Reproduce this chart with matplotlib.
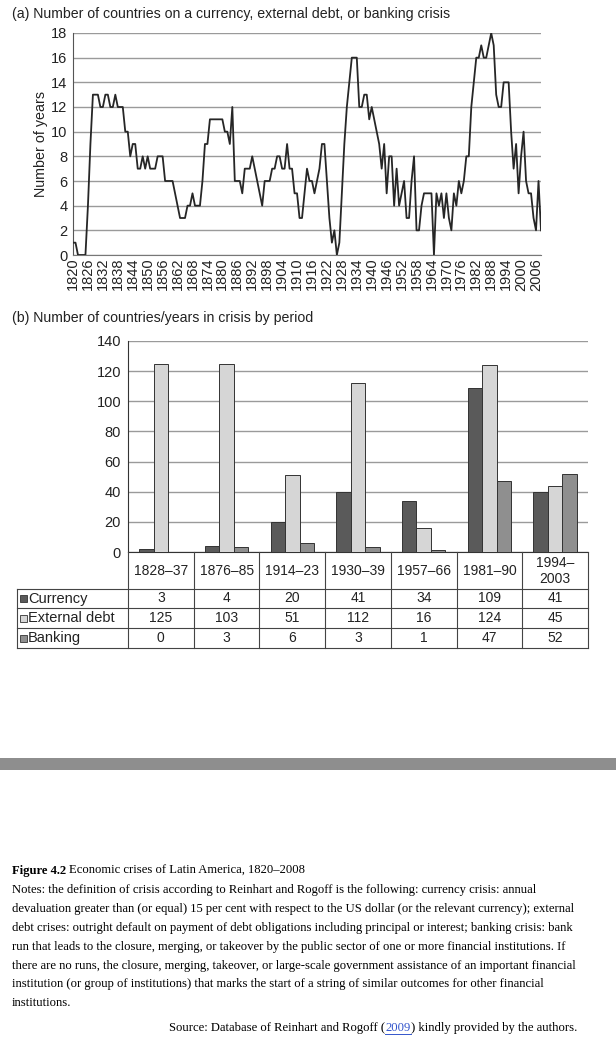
import numpy as np
import matplotlib
matplotlib.use('Agg')
import matplotlib.pyplot as plt
from matplotlib.patches import Rectangle

plt.rcParams['font.family'] = ['Liberation Sans', 'DejaVu Sans']

# ---- panel (a): number of countries in crisis, per year ----
years = np.arange(1820, 2009)
n_crisis = [
    1, 1, 0, 0, 0, 0, 4, 9, 13, 13,          # 1820s
    13, 12, 12, 13, 13, 12, 12, 13, 12, 12,  # 1830s
    12, 10, 10, 8, 9, 9, 7, 7, 8, 7,         # 1840s
    8, 7, 7, 7, 8, 8, 8, 6, 6, 6,            # 1850s
    6, 5, 4, 3, 3, 3, 4, 4, 5, 4,            # 1860s
    4, 4, 6, 9, 9, 11, 11, 11, 11, 11,       # 1870s
    11, 10, 10, 9, 12, 6, 6, 6, 5, 7,        # 1880s
    7, 7, 8, 7, 6, 5, 4, 6, 6, 6,            # 1890s
    7, 7, 8, 8, 7, 7, 9, 7, 7, 5,            # 1900s
    5, 3, 3, 5, 7, 6, 6, 5, 6, 7,            # 1910s
    9, 9, 6, 3, 1, 2, 0, 1, 5, 9,            # 1920s
    12, 14, 16, 16, 16, 12, 12, 13, 13, 11,  # 1930s
    12, 11, 10, 9, 7, 9, 5, 8, 8, 4,         # 1940s
    7, 4, 5, 6, 3, 3, 6, 8, 2, 2,            # 1950s
    4, 5, 5, 5, 5, 0, 5, 4, 5, 3,            # 1960s
    5, 3, 2, 5, 4, 6, 5, 6, 8, 8,            # 1970s
    12, 14, 16, 16, 17, 16, 16, 17, 18, 17,  # 1980s
    13, 12, 12, 14, 14, 14, 10, 7, 9, 5,     # 1990s
    8, 10, 6, 5, 5, 3, 2, 6, 2,              # 2000-2008
]

# ---- panel (b): countries/years in crisis by period ----
periods = ['1828–37', '1876–85', '1914–23', '1930–39', '1957–66', '1981–90', '1994–\n2003']
# bar heights as drawn
currency_bars = [2, 4, 20, 40, 34, 109, 40]
debt_bars = [125, 125, 51, 112, 16, 124, 44]
banking_bars = [0, 3, 6, 3, 1, 47, 52]
# numbers printed in the data table
currency_tab = [3, 4, 20, 41, 34, 109, 41]
debt_tab = [125, 103, 51, 112, 16, 124, 45]
banking_tab = [0, 3, 6, 3, 1, 47, 52]

c_cur, c_debt, c_bank = '#5a5a5a', '#d6d6d6', '#8f8f8f'

W, H = 616, 1046
fig = plt.figure(figsize=(W / 100, H / 100), dpi=100)


def frac(l, t, r, b):
    return [l / W, 1 - b / H, (r - l) / W, (b - t) / H]


# ================= panel (a) =================
fig.text(12 / W, 1 - 14 / H,
         '(a) Number of countries on a currency, external debt, or banking crisis',
         fontsize=10.2, va='center', color='#222')

ax_a = fig.add_axes(frac(73, 33, 541, 255))
ax_a.plot(years, n_crisis, color='#262626', lw=1.3, zorder=3)
ax_a.set_xlim(1820, 2008)
ax_a.set_ylim(0, 18)
ax_a.set_yticks(range(0, 19, 2))
ax_a.set_xticks(range(1820, 2007, 6))
ax_a.set_xticklabels([str(y) for y in range(1820, 2007, 6)], rotation=90)
ax_a.grid(axis='y', color='#9a9a9a', lw=1)
ax_a.set_axisbelow(True)
for s in ['top', 'right']:
    ax_a.spines[s].set_visible(False)
ax_a.spines['left'].set_color('#555')
ax_a.spines['bottom'].set_color('#777')
ax_a.tick_params(axis='y', length=0, labelsize=10.5, pad=4, colors='#222')
ax_a.tick_params(axis='x', length=0, labelsize=10.5, pad=2, colors='#222')
ax_a.set_ylabel('Number of years', fontsize=10.3, labelpad=2, color='#222')

# ================= panel (b) =================
fig.text(12 / W, 1 - 318 / H, '(b) Number of countries/years in crisis by period',
         fontsize=10.2, va='center', color='#222')

ax_b = fig.add_axes(frac(128, 341, 588, 552))
x = np.arange(len(periods))
bw = 0.22
ax_b.bar(x - bw, currency_bars, bw, color=c_cur, edgecolor='#333', lw=0.7, zorder=3)
ax_b.bar(x, debt_bars, bw, color=c_debt, edgecolor='#333', lw=0.7, zorder=3)
ax_b.bar(x + bw, banking_bars, bw, color=c_bank, edgecolor='#333', lw=0.7, zorder=3)
ax_b.set_xlim(-0.5, len(periods) - 0.5)
ax_b.set_ylim(0, 140)
ax_b.set_yticks(range(0, 141, 20))
ax_b.set_xticks([])
ax_b.grid(axis='y', color='#9a9a9a', lw=1)
ax_b.set_axisbelow(True)
for s in ['top', 'right']:
    ax_b.spines[s].set_visible(False)
ax_b.spines['left'].set_color('#333')
ax_b.spines['bottom'].set_color('#333')
ax_b.tick_params(length=0, labelsize=10.5, pad=5, colors='#222')

# overlay in pixel coordinates for table and caption
ov = fig.add_axes([0, 0, 1, 1])
ov.set_xlim(0, W)
ov.set_ylim(H, 0)
ov.axis('off')

edges = np.linspace(128, 588, len(periods) + 1)
centers = (edges[:-1] + edges[1:]) / 2
lc = '#444'
for e in edges:
    ov.plot([e, e], [552, 648], color=lc, lw=0.8)
ov.plot([17, 17], [589, 648], color=lc, lw=0.8)
for yy in [589, 608, 628, 648]:
    ov.plot([17, 588], [yy, yy], color=lc, lw=0.8)

for cx, p in zip(centers, periods):
    ov.text(cx, 571, p, ha='center', va='center', fontsize=10, color='#222',
            linespacing=1.15)

rows = [('Currency', c_cur, currency_tab, 598.5),
        ('External debt', c_debt, debt_tab, 618),
        ('Banking', c_bank, banking_tab, 638)]
for name, col, vals, yc in rows:
    ov.add_patch(Rectangle((20, yc - 3.5), 7, 7, fc=col, ec='#333', lw=0.6))
    ov.text(28, yc, name, ha='left', va='center', fontsize=10.5, color='#222')
    for cx, v in zip(centers, vals):
        ov.text(cx, yc, str(v), ha='center', va='center', fontsize=10, color='#222')

# gray separator band
ov.add_patch(Rectangle((0, 758), W, 12, fc='#8e8e8e', ec='none'))

# ================= caption =================
serif = ['Liberation Serif', 'DejaVu Serif']
fs = 9.1
fig.canvas.draw()
r = fig.canvas.get_renderer()

t1 = ov.text(12, 871, 'Figure 4.2', family=serif, weight='bold', fontsize=fs, va='center')
w1 = t1.get_window_extent(r).width
ov.text(12 + w1 + 3, 871, 'Economic crises of Latin America, 1820–2008',
        family=serif, fontsize=fs, va='center')

notes = [
    'Notes: the definition of crisis according to Reinhart and Rogoff is the following: currency crisis: annual',
    'devaluation greater than (or equal) 15 per cent with respect to the US dollar (or the relevant currency); external',
    'debt crises: outright default on payment of debt obligations including principal or interest; banking crisis: bank',
    'run that leads to the closure, merging, or takeover by the public sector of one or more financial institutions. If',
    'there are no runs, the closure, merging, takeover, or large-scale government assistance of an important financial',
    'institution (or group of institutions) that marks the start of a string of similar outcomes for other financial',
    'institutions.',
]
for i, line in enumerate(notes):
    ov.text(12, 890 + i * 18.9, line, family=serif, fontsize=fs, va='center')

parts = [('Source: Database of Reinhart and Rogoff (', 'black'),
         ('2009', '#3355cc'),
         (') kindly provided by the authors.', 'black')]
widths = []
for txt, col in parts:
    tt = ov.text(0, 0, txt, family=serif, fontsize=fs)
    widths.append(tt.get_window_extent(r).width)
    tt.remove()
xs = 577 - sum(widths)
for (txt, col), wd in zip(parts, widths):
    ov.text(xs, 1028, txt, family=serif, fontsize=fs, va='center', color=col)
    if txt == '2009':
        ov.plot([xs, xs + wd], [1034, 1034], color=col, lw=0.7)
    xs += wd

fig.savefig('out.png', dpi=100)
